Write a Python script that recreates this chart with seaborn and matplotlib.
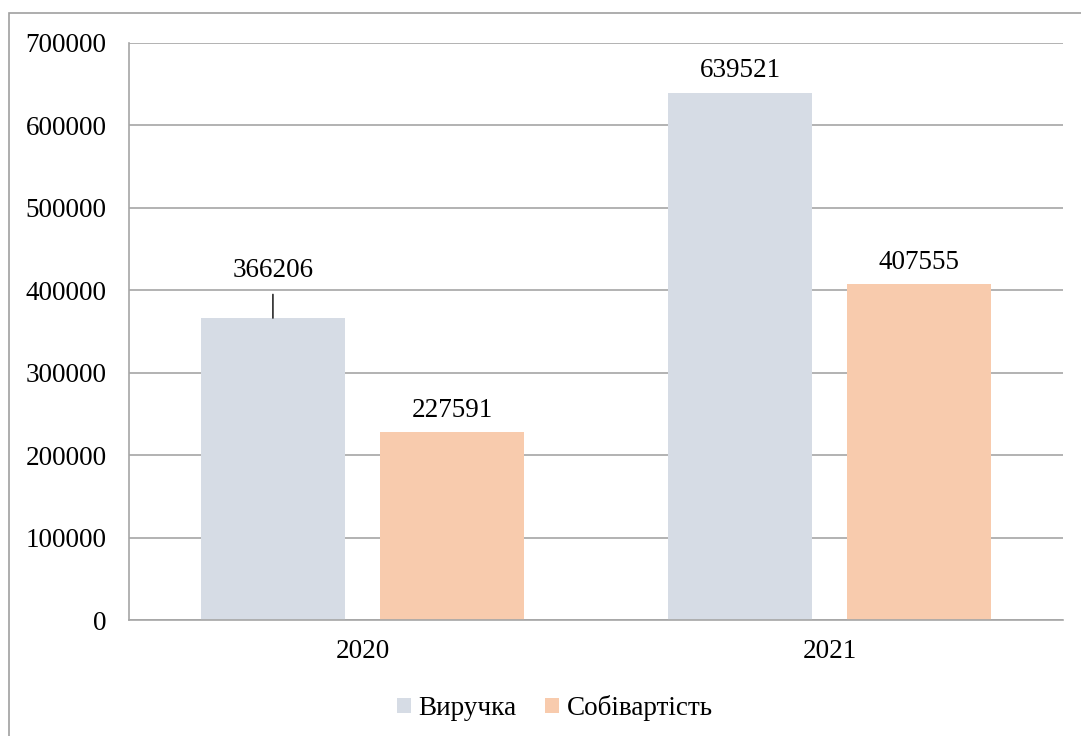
import matplotlib
matplotlib.use('Agg')
import matplotlib.pyplot as plt
import pandas as pd
import seaborn as sns
from matplotlib.patches import Rectangle

# chart data
years = ['2020', '2021']
series = ['Виручка', 'Собівартість']
revenue = [366206, 639521]
cost = [227591, 407555]
colors = ['#D6DCE5', '#F8CBAD']

data = pd.DataFrame({
    'year': years * 2,
    'series': [series[0]] * len(years) + [series[1]] * len(years),
    'value': revenue + cost,
})

sns.set_style('white')
plt.rcParams['font.family'] = ['Liberation Serif', 'DejaVu Serif']
plt.rcParams['text.color'] = 'black'

fig = plt.figure(figsize=(10.81, 7.36), dpi=100)
ax = fig.add_axes([0.1193, 0.1576, 0.8641, 0.784])

sns.barplot(data=data, x='year', y='value', hue='series', order=years,
            hue_order=series, palette=colors, width=0.767, gap=0.196,
            saturation=1, edgecolor='none', ax=ax, legend=True)

ax.set_ylim(0, 700000)
ax.set_xlim(-0.5, 1.5)
ax.set_yticks(range(0, 700001, 100000))
ax.set_yticklabels([str(v) for v in range(0, 700001, 100000)])
ax.set_xlabel('')
ax.set_ylabel('')
ax.grid(axis='y', color='#A6A6A6', linewidth=1.2)
ax.set_axisbelow(True)
for side in ['top', 'right']:
    ax.spines[side].set_visible(False)
for side in ['left', 'bottom']:
    ax.spines[side].set_color('#A6A6A6')
    ax.spines[side].set_linewidth(1.2)
ax.tick_params(axis='y', length=0, pad=16, labelsize=19.5, colors='black')
ax.tick_params(axis='x', length=0, pad=14, labelsize=19.5, colors='black')

# value labels
for i, cont in enumerate(ax.containers):
    for j, bar in enumerate(cont):
        h = bar.get_height()
        xc = bar.get_x() + bar.get_width() / 2
        if i == 0 and j == 0:
            ax.annotate(f'{int(h)}', xy=(xc, h), xytext=(0, 34.5),
                        textcoords='offset points', ha='center', va='center',
                        fontsize=19.5, color='black',
                        arrowprops=dict(arrowstyle='-', color='black', lw=1,
                                        shrinkA=6, shrinkB=0))
        else:
            ax.annotate(f'{int(h)}', xy=(xc, h), xytext=(0, 15.8),
                        textcoords='offset points', ha='center', va='center',
                        fontsize=19.5, color='black')

leg = ax.legend(loc='center', bbox_to_anchor=(0.513, 0.038),
                bbox_transform=fig.transFigure, ncol=2, frameon=False,
                fontsize=19.5, handlelength=0.52, handleheight=0.52,
                handletextpad=0.27, columnspacing=1.07)
for t in leg.get_texts():
    t.set_color('black')

# outer chart frame (top and left edges visible)
fig.add_artist(Rectangle((9 / 1081, -0.1), 2, (736 - 13) / 736 + 0.1,
                         transform=fig.transFigure, fill=False,
                         edgecolor='#A0A0A0', linewidth=1.2))

fig.savefig('out.png', dpi=100)
